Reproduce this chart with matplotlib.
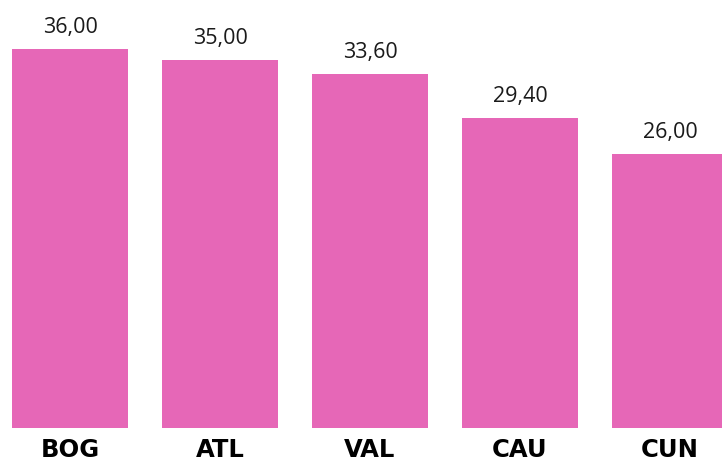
import matplotlib
matplotlib.use("Agg")
import matplotlib.pyplot as plt

categories = ["BOG", "ATL", "VAL", "CAU", "CUN"]
values = [36.00, 35.00, 33.60, 29.40, 26.00]

W, H = 722, 464
fig = plt.figure(figsize=(W / 100, H / 100), dpi=100)
# axes: baseline at y=429 px, top at 0 px
ax = fig.add_axes([0, (H - 429) / H, 1, 429 / H])
ax.set_xlim(-70 / 150, (W - 70) / 150)
ax.set_ylim(0, 429 / (379 / 36))

x = range(len(categories))
ax.bar(x, values, width=116 / 150, color="#E667B7")

for i, v in enumerate(values):
    ax.annotate(f"{v:.2f}".replace(".", ","), (i, v), xytext=(0, 17),
                textcoords="offset pixels", ha="center", va="baseline",
                fontsize=15.5, family="Open Sans", color="#1a1a1a")

for i, c in enumerate(categories):
    ax.annotate(c, (i, 0), xytext=(0, -28), textcoords="offset pixels",
                ha="center", va="baseline", fontsize=17.5, family="DejaVu Sans",
                fontweight="heavy", color="black", annotation_clip=False)

ax.axis("off")
fig.savefig("out.png", dpi=100)
